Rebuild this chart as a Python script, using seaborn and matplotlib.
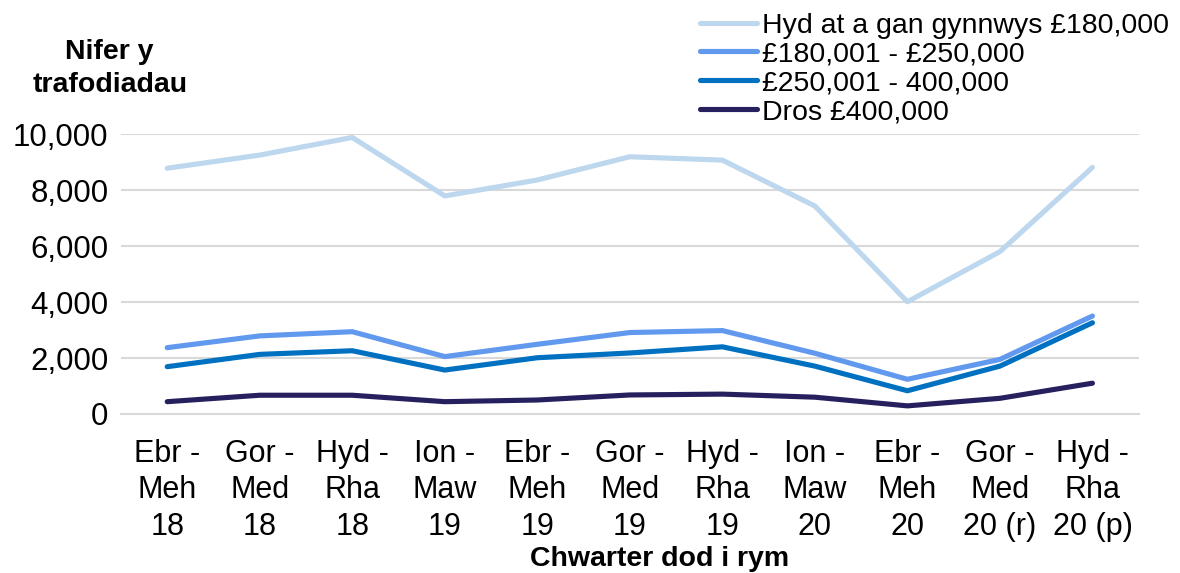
import matplotlib
matplotlib.use("Agg")
import matplotlib.pyplot as plt
import seaborn as sns
import pandas as pd
import numpy as np
from matplotlib.ticker import FuncFormatter, FixedLocator

# data
quarters = ["Ebr -\nMeh\n18", "Gor -\nMed\n18", "Hyd -\nRha\n18", "Ion -\nMaw\n19",
            "Ebr -\nMeh\n19", "Gor -\nMed\n19", "Hyd -\nRha\n19", "Ion -\nMaw\n20",
            "Ebr -\nMeh\n20", "Gor -\nMed\n20 (r)", "Hyd -\nRha\n20 (p)"]
series_names = ["Hyd at a gan gynnwys £180,000", "£180,001 - £250,000",
                "£250,001 - 400,000", "Dros £400,000"]
upto_180k = [8780, 9250, 9880, 7790, 8360, 9190, 9070, 7430, 4010, 5800, 8810]
band_180_250k = [2370, 2790, 2940, 2050, 2490, 2910, 2980, 2170, 1240, 1950, 3500]
band_250_400k = [1690, 2130, 2260, 1570, 2010, 2180, 2400, 1710, 830, 1710, 3260]
over_400k = [440, 670, 670, 440, 500, 680, 710, 600, 290, 560, 1100]
colours = ["#BDD7EE", "#6199EE", "#0070C0", "#26215E"]

sns.set_theme(style="white", rc={"text.color": "black", "xtick.color": "black",
                                 "ytick.color": "black", "axes.labelcolor": "black"})
plt.rcParams['font.family'] = ['Liberation Sans', 'DejaVu Sans']

df = pd.DataFrame({"quarter": quarters * 4,
                   "band": np.repeat(series_names, len(quarters)),
                   "value": upto_180k + band_180_250k + band_250_400k + over_400k})

fig = plt.figure(figsize=(11.8, 5.73), dpi=100)
ax = fig.add_axes([0.1025, 0.2775, 0.8625, 0.4885])

sns.lineplot(data=df, x="quarter", y="value", hue="band", hue_order=series_names,
             palette=colours, linewidth=3.7, sort=False, ax=ax, legend=False)
for ln in ax.lines:
    ln.set_solid_capstyle("round")

ax.set_xlim(-0.5, len(quarters) - 0.5)
ax.set_ylim(0, 10000)
ax.set_yticks(range(0, 10001, 2000))
ax.yaxis.set_major_formatter(FuncFormatter(lambda v, p: f"{int(v):,}"))
ax.grid(axis="y", color="#D9D9D9", linewidth=1.5)
ax.set_axisbelow(True)
for s in ["top", "right", "left"]:
    ax.spines[s].set_visible(False)
ax.spines["bottom"].set_color("#D9D9D9")
ax.spines["bottom"].set_linewidth(1.5)

ax.xaxis.set_minor_locator(FixedLocator(np.arange(-0.5, len(quarters), 1)))
ax.tick_params(axis="x", which="minor", length=10, width=1.5, color="#D9D9D9")
ax.tick_params(axis="x", which="major", length=0, pad=18, labelsize=22)
ax.tick_params(axis="y", length=0, pad=9, labelsize=22.5)
for t in ax.get_xticklabels():
    t.set_linespacing(1.28)

ax.set_xlabel("")
ax.set_ylabel("")
fig.text(0.559, 0.024, "Chwarter dod i rym", ha="center", va="center",
         fontsize=20.5, fontweight="bold")
fig.text(0.093, 0.88, "Nifer y\ntrafodiadau", ha="center", va="center",
         fontsize=20.5, fontweight="bold", linespacing=1.35)

handles = [plt.Line2D([], [], color=c, linewidth=3.7, solid_capstyle="round")
           for c in colours]
fig.legend(handles, series_names, loc="upper left", bbox_to_anchor=(0.593, 0.978),
           frameon=False, fontsize=20.5, handlelength=2.0, handletextpad=0.18,
           labelspacing=0.1, borderpad=0, borderaxespad=0)

fig.savefig("out.png", dpi=100)
